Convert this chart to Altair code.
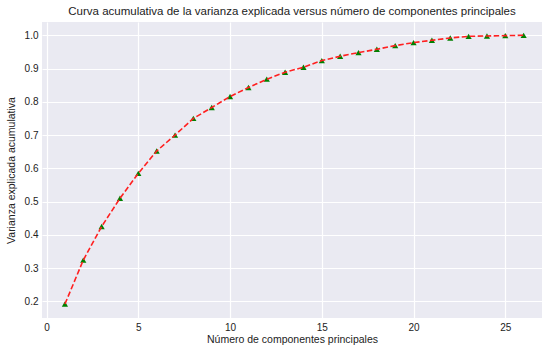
import altair as alt
import pandas as pd

componentes = list(range(1, 27))
varianza_acumulada = [0.192, 0.324, 0.425, 0.510, 0.585, 0.652, 0.700, 0.750, 0.783, 0.816,
                      0.843, 0.868, 0.889, 0.904, 0.924, 0.937, 0.948, 0.958, 0.969, 0.978,
                      0.985, 0.992, 0.997, 0.998, 0.999, 1.000]

df = pd.DataFrame({"n": componentes, "v": varianza_acumulada})

font = "Liberation Sans"
x = alt.X("n:Q", scale=alt.Scale(domain=[-0.25, 27.0], nice=False, zero=False),
          axis=alt.Axis(values=[0, 5, 10, 15, 20, 25], format="d",
                        title="Número de componentes principales"))
y = alt.Y("v:Q", scale=alt.Scale(domain=[0.15, 1.04], nice=False, zero=False),
          axis=alt.Axis(values=[0.2, 0.3, 0.4, 0.5, 0.6, 0.7, 0.8, 0.9, 1.0], format=".1f",
                        title="Varianza explicada acumulativa"))

pts = alt.Chart(df).mark_point(shape="triangle-up", filled=True, color="#008000",
                               size=38, opacity=1).encode(x=x, y=y)
line = alt.Chart(df).mark_line(color="#ff2020", strokeWidth=1.6,
                               strokeDash=[5.5, 2.5]).encode(x=x, y=y)

chart = (pts + line).properties(
    width=500, height=296,
    background="white",
    title=alt.TitleParams("Curva acumulativa de la varianza explicada versus número de componentes principales",
                          font=font, fontSize=11.5, fontWeight="normal", color="#222222", offset=5),
    autosize=alt.AutoSizeParams(type="none"),
    padding={"left": 42, "top": 22, "right": 1, "bottom": 30},
).configure_view(fill="#EAEAF2", stroke=None).configure_axis(
    domain=False, ticks=False, grid=True, gridColor="white", gridWidth=1.2, gridOpacity=1,
    labelFont=font, labelFontSize=10, labelColor="#222222", labelPadding=4,
    titleFont=font, titleFontSize=10.5, titleFontWeight="normal", titleColor="#222222",
).configure_axisX(titlePadding=2).configure_axisY(titlePadding=8)

chart.save("out.html", embed_options={"renderer": "svg", "actions": False})
